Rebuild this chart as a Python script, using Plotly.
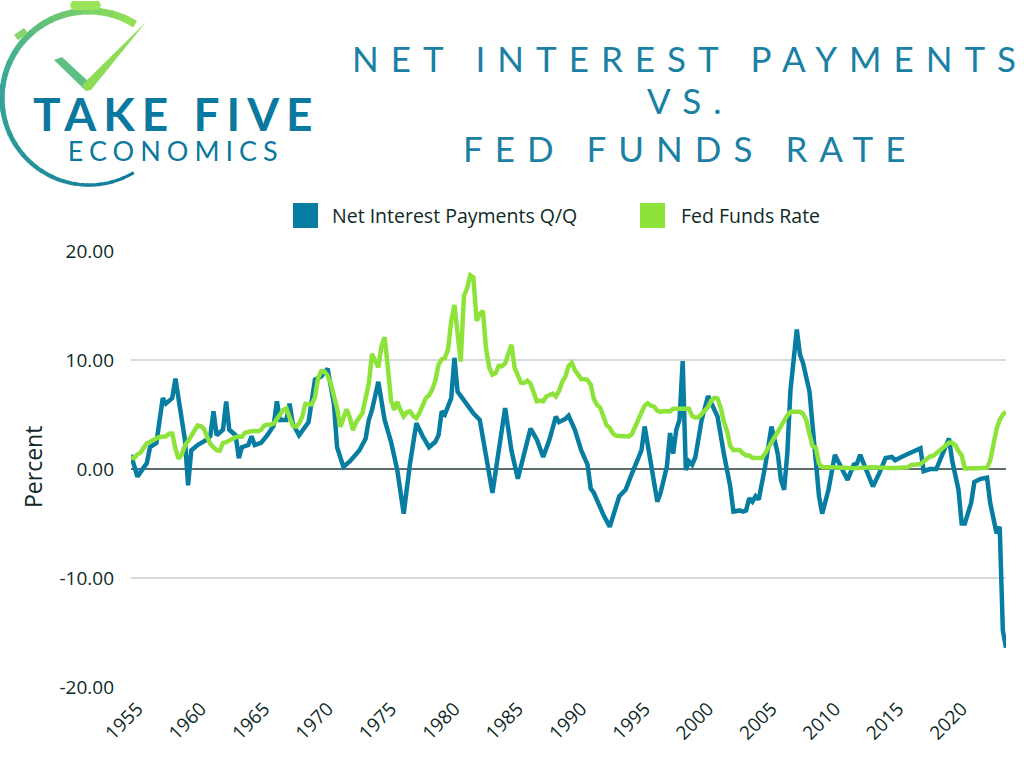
import math
import pandas as pd
import plotly.graph_objects as go

# ---------------- data ----------------
ff_start = "1954Q3"
ff_values = [
    1.03, 0.99,
    1.34, 1.50, 1.94, 2.36,
    2.48, 2.69, 2.81, 2.93,
    2.93, 3.00, 3.23, 3.25,
    1.86, 0.94, 1.32, 2.16,
    2.57, 3.08, 3.58, 3.99,
    3.93, 3.70, 2.94, 2.30,
    2.00, 1.73, 1.68, 2.40,
    2.46, 2.61, 2.85, 2.92,
    2.97, 2.96, 3.33, 3.45,
    3.46, 3.49, 3.46, 3.58,
    3.97, 4.08, 4.07, 4.17,
    4.56, 4.91, 5.41, 5.56,
    4.82, 3.99, 3.89, 4.17,
    4.79, 5.98, 5.94, 5.92,
    6.57, 8.33, 8.98, 8.94,
    8.57, 7.88, 6.70, 5.57,
    3.86, 4.56, 5.47, 4.75,
    3.55, 4.30, 4.74, 5.14,
    6.54, 7.82, 10.56, 10.00,
    9.32, 11.25, 12.09, 9.35,
    6.30, 5.42, 6.16, 5.41,
    4.83, 5.20, 5.28, 4.87,
    4.66, 5.16, 5.82, 6.51,
    6.76, 7.28, 8.10, 9.58,
    10.07, 10.18, 10.95, 13.58,
    15.05, 12.69, 9.84, 15.85,
    16.57, 17.78, 17.58, 13.59,
    14.23, 14.51, 11.01, 9.29,
    8.65, 8.80, 9.46, 9.43,
    9.69, 10.56, 11.39, 9.27,
    8.48, 7.92, 7.90, 8.10,
    7.83, 6.92, 6.21, 6.27,
    6.22, 6.65, 6.84, 6.92,
    6.66, 7.16, 7.98, 8.47,
    9.44, 9.73, 9.08, 8.61,
    8.25, 8.24, 8.16, 7.74,
    6.43, 5.86, 5.64, 4.82,
    4.02, 3.77, 3.26, 3.04,
    3.04, 3.00, 3.06, 2.99,
    3.21, 3.94, 4.49, 5.17,
    5.81, 6.02, 5.80, 5.72,
    5.36, 5.24, 5.31, 5.28,
    5.28, 5.52, 5.53, 5.51,
    5.52, 5.50, 5.53, 4.86,
    4.73, 4.75, 5.09, 5.31,
    5.68, 6.27, 6.52, 6.47,
    5.59, 4.33, 3.50, 2.13,
    1.73, 1.75, 1.74, 1.44,
    1.25, 1.25, 1.02, 1.00,
    1.00, 1.01, 1.43, 1.95,
    2.47, 2.94, 3.46, 3.98,
    4.46, 4.91, 5.25, 5.25,
    5.26, 5.25, 5.07, 4.50,
    3.18, 2.09, 1.94, 0.51,
    0.18, 0.18, 0.16, 0.12,
    0.13, 0.19, 0.19, 0.19,
    0.16, 0.09, 0.08, 0.07,
    0.10, 0.15, 0.14, 0.16,
    0.14, 0.12, 0.08, 0.09,
    0.07, 0.09, 0.09, 0.10,
    0.11, 0.13, 0.14, 0.16,
    0.36, 0.37, 0.40, 0.45,
    0.70, 0.95, 1.15, 1.20,
    1.45, 1.74, 1.92, 2.22,
    2.40, 2.40, 2.19, 1.64,
    1.26, 0.06, 0.09, 0.09,
    0.08, 0.07, 0.09, 0.08,
    0.12, 0.77, 2.19, 3.65,
    4.52, 4.99, 5.26,
]

nip_quarters = [
    "1954Q3", "1955Q1", "1955Q4", "1956Q1", "1956Q3", "1957Q1", "1957Q2", "1957Q4",
    "1958Q1", "1958Q3", "1958Q4", "1959Q1", "1959Q2", "1959Q4", "1960Q3", "1960Q4",
    "1961Q1", "1961Q2", "1961Q4", "1962Q1", "1962Q2", "1962Q4", "1963Q1", "1963Q2",
    "1963Q4", "1964Q1", "1964Q2", "1964Q4", "1965Q2", "1965Q4", "1966Q1", "1966Q2",
    "1966Q4", "1967Q1", "1967Q2", "1967Q4", "1968Q3", "1969Q1", "1969Q3", "1970Q1",
    "1970Q3", "1970Q4", "1971Q2", "1971Q4", "1972Q3", "1973Q1", "1973Q2", "1973Q3",
    "1974Q1", "1974Q3", "1975Q1", "1975Q3", "1976Q1", "1976Q3", "1977Q1", "1977Q3",
    "1978Q1", "1978Q3", "1978Q4", "1979Q1", "1979Q2", "1979Q4", "1980Q1", "1980Q2",
    "1980Q4", "1981Q1", "1981Q3", "1982Q1", "1982Q4", "1983Q1", "1983Q3", "1984Q1",
    "1984Q3", "1985Q1", "1985Q3", "1986Q1", "1986Q3", "1987Q1", "1987Q3", "1988Q1",
    "1988Q2", "1988Q4", "1989Q1", "1989Q3", "1990Q1", "1990Q3", "1990Q4", "1991Q1",
    "1991Q4", "1992Q2", "1993Q1", "1993Q3", "1994Q1", "1994Q4", "1995Q1", "1995Q3",
    "1996Q1", "1996Q2", "1996Q4", "1997Q1", "1997Q2", "1997Q3", "1997Q4", "1998Q1",
    "1998Q2", "1998Q3", "1998Q4", "1999Q1", "1999Q3", "2000Q1", "2000Q2", "2000Q4",
    "2001Q2", "2001Q4", "2002Q1", "2002Q3", "2002Q4", "2003Q1", "2003Q2", "2003Q3",
    "2003Q4", "2004Q1", "2004Q3", "2005Q1", "2005Q3", "2005Q4", "2006Q1", "2006Q2",
    "2006Q3", "2007Q1", "2007Q2", "2007Q3", "2008Q1", "2008Q2", "2008Q4", "2009Q1",
    "2009Q3", "2010Q1", "2010Q2", "2011Q1", "2011Q3", "2011Q4", "2012Q1", "2012Q3",
    "2013Q1", "2013Q3", "2014Q1", "2014Q3", "2014Q4", "2015Q2", "2016Q2", "2016Q4",
    "2017Q1", "2017Q3", "2018Q1", "2018Q3", "2019Q1", "2019Q2", "2019Q4", "2020Q1",
    "2020Q2", "2020Q4", "2021Q1", "2021Q3", "2022Q1", "2022Q2", "2022Q4", "2023Q1",
    "2023Q2", "2023Q3",
]
nip_values = [
    1.3, -0.7, 0.55, 2.0, 2.4, 6.5, 6.0, 6.5,
    8.3, 4.8, 2.7, -1.5, 1.7, 2.2, 2.7, 3.0,
    5.3, 3.1, 3.6, 6.2, 3.6, 3.1, 1.0, 2.0,
    2.2, 3.0, 2.2, 2.4, 3.1, 4.0, 6.2, 4.5,
    4.5, 6.0, 4.2, 3.1, 4.3, 8.2, 8.5, 9.2,
    6.0, 2.0, 0.2, 0.7, 1.7, 2.8, 4.5, 5.4,
    8.0, 4.5, 2.5, -0.1, -4.1, 0.5, 4.2, 3.0,
    2.0, 2.5, 3.1, 5.3, 5.0, 6.5, 10.2, 7.1,
    6.3, 6.0, 5.1, 4.5, -1.0, -2.2, 1.7, 5.6,
    1.7, -0.9, 1.4, 3.7, 2.7, 1.1, 2.7, 4.8,
    4.3, 4.6, 4.9, 3.6, 1.7, 0.4, -1.8, -2.2,
    -4.2, -5.3, -2.5, -1.9, -0.4, 1.7, 3.9, 0.2,
    -3.0, -2.2, 0.2, 3.3, 1.4, 3.6, 4.5, 9.9,
    -0.1, 0.7, 0.4, 1.1, 4.5, 6.7, 6.0, 4.8,
    1.4, -1.6, -3.9, -3.8, -3.9, -3.8, -2.7, -3.0,
    -2.5, -2.8, 0.2, 3.9, 1.4, -1.0, -1.9, 1.4,
    7.2, 12.8, 10.5, 9.7, 7.1, 3.9, -2.5, -4.1,
    -1.9, 1.3, 0.7, -1.0, 0.4, 0.5, 1.3, -0.1,
    -1.6, -0.4, 1.0, 1.1, 0.8, 1.1, 1.6, 1.9,
    -0.2, 0.0, 0.0, 1.4, 2.8, 0.8, -1.9, -5.0,
    -5.0, -3.1, -1.2, -0.9, -0.8, -3.1, -5.9, -5.3,
    -14.8, -16.4,
]

x_tick_years = [1955, 1960, 1965, 1970, 1975, 1980, 1985, 1990, 1995, 2000, 2005, 2010, 2015, 2020]
y_tick_values = [-20, -10, 0, 10, 20]
y_tick_labels = [f"{v:.2f}" for v in y_tick_values]

series_names = ["Net Interest Payments Q/Q", "Fed Funds Rate"]
title_lines = ["NET INTEREST PAYMENTS", "VS.", "FED FUNDS RATE"]
logo_lines = ["TAKE FIVE", "ECONOMICS"]

BLUE = "#087da2"
GREEN = "#8ee33b"
TEXT = "#0e2a26"
TITLE_C = "#1a80a4"

ff_dates = pd.period_range(ff_start, periods=len(ff_values), freq="Q").to_timestamp()
nip_dates = pd.PeriodIndex(nip_quarters, freq="Q").to_timestamp()

# ---------------- figure ----------------
fig = go.Figure()
fig.add_trace(go.Scatter(x=nip_dates, y=nip_values, mode="lines", name=series_names[0],
                         line=dict(color=BLUE, width=4.5), showlegend=False))
fig.add_trace(go.Scatter(x=ff_dates, y=ff_values, mode="lines", name=series_names[1],
                         line=dict(color=GREEN, width=4.5), showlegend=False))

L, R, T, B = 131, 1006, 251, 687
W, H = 1024, 768


def px(x):
    return (x - L) / (R - L)


def py(y):
    return (B - y) / (B - T)


def spaced(s, ls, extra=""):
    """letter-spaced text (no trailing space after the last glyph)"""
    return f'<span style="letter-spacing:{ls}px;{extra}">{s[:-1]}</span>' \
           f'<span style="{extra}">{s[-1]}</span>'


shapes = []
annotations = []

# --- logo: stopwatch arc with colour gradient ---
cx, cy, rr = 89, 98, 87
a0, a1 = 58, 301
nseg = 30


def lerp(c1, c2, t):
    return tuple(int(round(c1[i] + (c2[i] - c1[i]) * t)) for i in range(3))


c_green = (152, 226, 82)
c_teal = (58, 168, 150)
c_blue = (14, 120, 160)
for i in range(nseg):
    t0 = i / nseg
    t1 = (i + 1.15) / nseg
    th0 = math.radians(a0 + (a1 - a0) * t0)
    th1 = math.radians(a0 + (a1 - a0) * min(t1, 1))
    pts = []
    for k in range(4):
        th = th0 + (th1 - th0) * k / 3
        pts.append((px(cx + rr * math.cos(th)), py(cy - rr * math.sin(th))))
    path = "M " + " L ".join(f"{a:.5f},{b:.5f}" for a, b in pts)
    tm = (t0 + t1) / 2
    col = lerp(c_green, c_teal, tm / 0.45) if tm < 0.45 else lerp(c_teal, c_blue, (tm - 0.45) / 0.55)
    wdt = 7.5 - 4.5 * tm
    shapes.append(dict(type="path", xref="paper", yref="paper", path=path,
                       line=dict(color=f"rgb{col}", width=wdt)))


def poly(points, color):
    path = "M " + " L ".join(f"{px(a):.5f},{py(b):.5f}" for a, b in points) + " Z"
    return dict(type="path", xref="paper", yref="paper", path=path,
                fillcolor=color, line=dict(width=0))


# top button and side button
shapes.append(poly([(72, 1), (99, 1), (101, 5), (99, 10), (72, 10), (70, 5)], "#9be35a"))
shapes.append(poly([(14, 35), (24, 28), (28, 33), (18, 40)], "#84d66c"))
# check mark
shapes.append(poly([(54, 60), (62, 57), (89, 82), (86, 91)], "#5cbf86"))
shapes.append(poly([(82, 85), (146, 22), (91, 90), (86, 91)], "#8edc55"))

# legend swatches
shapes.append(dict(type="rect", xref="paper", yref="paper", x0=px(293), x1=px(318),
                   y0=py(228), y1=py(203), fillcolor=BLUE, line=dict(width=0)))
shapes.append(dict(type="rect", xref="paper", yref="paper", x0=px(640), x1=px(665),
                   y0=py(228), y1=py(203), fillcolor=GREEN, line=dict(width=0)))

annotations.append(dict(text=series_names[0], x=px(330), y=py(215), xref="paper", yref="paper",
                        xanchor="left", yanchor="middle", showarrow=False,
                        font=dict(family="Open Sans", size=19.5, color=TEXT)))
annotations.append(dict(text=series_names[1], x=px(679), y=py(215), xref="paper", yref="paper",
                        xanchor="left", yanchor="middle", showarrow=False,
                        font=dict(family="Open Sans", size=19.5, color=TEXT)))

# title
for line, yy in zip(title_lines, [58, 100, 148]):
    annotations.append(dict(text=spaced(line, 12), x=px(684), y=py(yy), xref="paper", yref="paper",
                            xanchor="center", yanchor="middle", showarrow=False,
                            font=dict(family="Lato", size=35, color=TITLE_C)))

# logo text (two lines in one text block)
logo_text = (spaced(logo_lines[0], 7, "font-size:46px;font-weight:bold")
             + "<br>" + spaced(logo_lines[1], 6, "font-size:27px"))
annotations.append(dict(text=logo_text, x=px(173), y=py(127), xref="paper", yref="paper",
                        xanchor="center", yanchor="middle", showarrow=False,
                        font=dict(family="Lato", size=23, color="#0b78a0")))

# y axis title
annotations.append(dict(text="Percent", x=px(33), y=py(467), xref="paper", yref="paper",
                        xanchor="center", yanchor="middle", textangle=-90, showarrow=False,
                        font=dict(family="Open Sans", size=23, color=TEXT)))

fig.update_layout(
    width=W, height=H,
    margin=dict(l=L, r=W - R, t=T, b=H - B),
    paper_bgcolor="white", plot_bgcolor="white",
    showlegend=False,
    shapes=shapes, annotations=annotations,
    font=dict(family="Open Sans", color=TEXT),
    xaxis=dict(type="date", range=["1954-07-01", "2023-07-01"],
               tickvals=[f"{y}-01-01" for y in x_tick_years],
               ticktext=[str(y) for y in x_tick_years],
               tickangle=-45, showgrid=False, zeroline=False, showline=False,
               ticks="", ticklabelstandoff=6,
               tickfont=dict(family="Open Sans", size=19, color=TEXT)),
    yaxis=dict(range=[-20, 20], tickvals=y_tick_values, ticktext=y_tick_labels,
               showgrid=True, gridcolor="#d6dada", gridwidth=1.5,
               zeroline=True, zerolinecolor="#5e6c6b", zerolinewidth=1.5,
               showline=False, ticks="", ticklabelstandoff=16,
               tickfont=dict(family="Open Sans", size=19, color=TEXT)),
)

fig.write_html("out.html")
